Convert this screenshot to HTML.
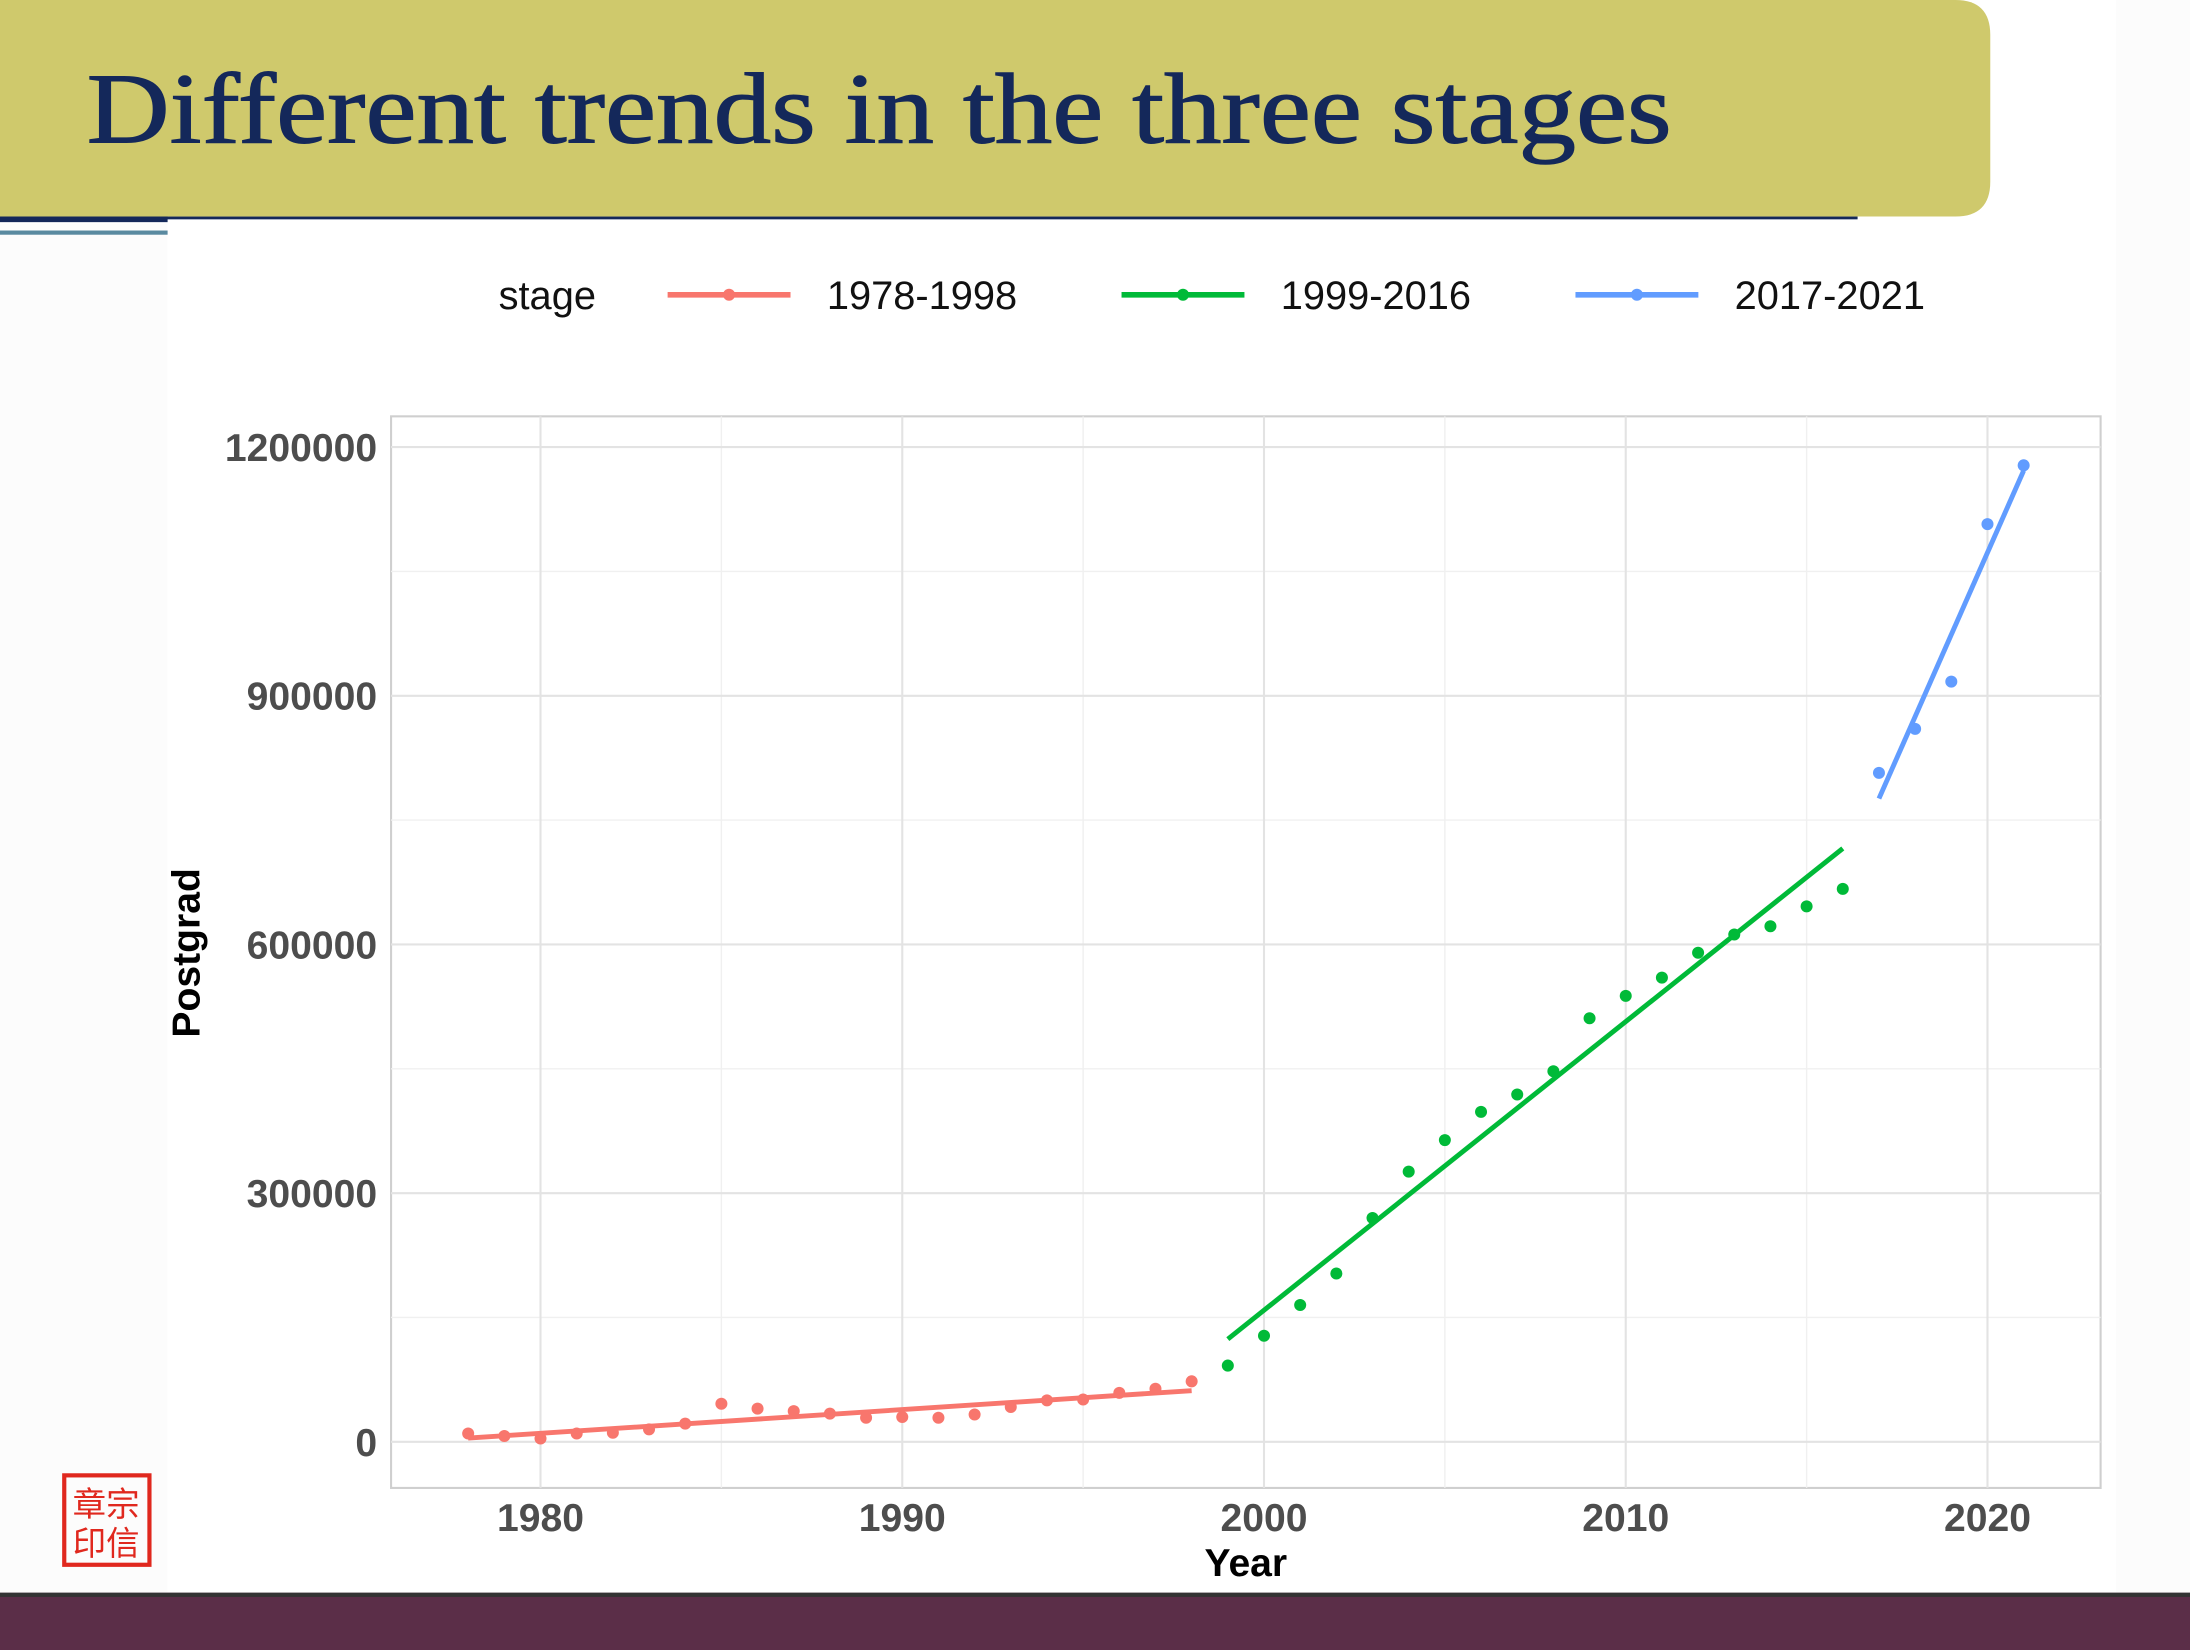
<!DOCTYPE html>
<html><head><meta charset="utf-8"><style>
html,body{margin:0;padding:0;background:#fff;}
svg{display:block;}
</style></head><body>
<svg id="chart" width="2190" height="1650" viewBox="0 0 1568 1181" preserveAspectRatio="none" xmlns="http://www.w3.org/2000/svg">
  <rect x="0" y="0" width="1568" height="1181" fill="#ffffff"/>
  <rect x="1515" y="0" width="53" height="1140" fill="#fcfcfc"/>
  <rect x="0" y="160" width="120" height="980" fill="#fcfcfc"/>
  <path d="M0 0 H1400 Q1425 0 1425 25 V130 Q1425 155 1400 155 H0 Z" fill="#CFC96C"/>
  <text x="62" y="102" font-family="'Liberation Serif', serif" font-size="72" fill="#14285A" stroke="#14285A" stroke-width="0.8" textLength="1135" lengthAdjust="spacingAndGlyphs">Different trends in the three stages</text>
  <rect x="0" y="155" width="1330" height="2" fill="#14285A"/>
  <rect x="0" y="155" width="120" height="4" fill="#14285A"/>
  <rect x="0" y="165" width="120" height="3" fill="#5A8AA0"/>
  <rect x="0" y="1140" width="1568" height="41" fill="#5B2E48"/>
  <rect x="0" y="1140" width="1568" height="3" fill="#333"/>
  <g>
    <rect x="46" y="1056" width="61" height="64" fill="none" stroke="#E0281E" stroke-width="3"/>
    <text x="76" y="1085" font-family="'Noto Sans CJK SC', sans-serif" font-size="24" fill="#E0281E" text-anchor="middle">章宗</text>
    <text x="76" y="1113" font-family="'Noto Sans CJK SC', sans-serif" font-size="24" fill="#E0281E" text-anchor="middle">印信</text>
  </g>
  <g font-family="'Liberation Sans', sans-serif" font-size="28.5" fill="#111">
    <text x="357" y="221">stage</text>
  </g>
  <g id="plot"></g>
</svg>
<script>
const years1 = [1978,1979,1980,1981,1982,1983,1984,1985,1986,1987,1988,1989,1990,1991,1992,1993,1994,1995,1996,1997,1998];
const vals1 = [10000,7000,4000,10000,11000,15000,22000,46000,40000,37000,34000,29000,30000,29000,33000,42000,50000,51000,59000,64000,73000];
const years2 = [1999,2000,2001,2002,2003,2004,2005,2006,2007,2008,2009,2010,2011,2012,2013,2014,2015,2016];
const vals2 = [92000,128000,165000,203000,270000,326000,364000,398000,419000,447000,511000,538000,560000,590000,612000,622000,646000,667000];
const years3 = [2017,2018,2019,2020,2021];
const vals3 = [807000,860000,917000,1107000,1178000];
const stageNames = ["1978-1998","1999-2016","2017-2021"];
const stageColors = ["#F8766D","#00BA38","#619CFF"];
const xTicks = [1980,1990,2000,2010,2020];
const yTicks = [0,300000,600000,900000,1200000];
const yMinor = [150000,450000,750000,1050000];
const xMinor = [1985,1995,2005,2015];

const NS = "http://www.w3.org/2000/svg";
const P = {l:280, r:1504, t:298, b:1065};
function xs(v){ return 387 + (v-1980)*25.9; }
function ys(v){ return 1032 - v/300000*178; }
const svg = document.getElementById('chart');
const g = document.getElementById('plot');
function mk(tag, attrs, parent){ const e=document.createElementNS(NS,tag); for(const k in attrs) e.setAttribute(k,attrs[k]); (parent||g).appendChild(e); return e; }

const panel = mk('rect',{x:P.l,y:P.t,width:P.r-P.l,height:P.b-P.t,fill:'#fff',stroke:'#cfcfcf','stroke-width':1.5});


yMinor.forEach(v=>{ const l=mk('line',{x1:P.l,x2:P.r,y1:ys(v),y2:ys(v),stroke:'#f0f0f0','stroke-width':1});
  
   });
xMinor.forEach(v=>{ const l=mk('line',{x1:xs(v),x2:xs(v),y1:P.t,y2:P.b,stroke:'#f0f0f0','stroke-width':1});
  
   });
yTicks.forEach(v=>{
  const l=mk('line',{x1:P.l,x2:P.r,y1:ys(v),y2:ys(v),stroke:'#e3e3e3','stroke-width':1.5});
  
  
  const t=mk('text',{x:270,y:ys(v)+10,'text-anchor':'end','font-family':"'Liberation Sans', sans-serif",'font-size':28,'font-weight':'bold',fill:'#4d4d4d'});
  
  
  t.textContent=v;
});
xTicks.forEach(v=>{
  const l=mk('line',{x1:xs(v),x2:xs(v),y1:P.t,y2:P.b,stroke:'#e3e3e3','stroke-width':1.5});
  
  
  const t=mk('text',{x:xs(v),y:1096,'text-anchor':'middle','font-family':"'Liberation Sans', sans-serif",'font-size':28,'font-weight':'bold',fill:'#4d4d4d'});
  
  
  t.textContent=v;
});
const xl=mk('text',{x:892,y:1128,'text-anchor':'middle','font-family':"'Liberation Sans', sans-serif",'font-size':28,'font-weight':'bold',fill:'#000'});


xl.textContent='Year';
const yl=mk('text',{x:0,y:0,transform:'translate(143,682) rotate(-90)','text-anchor':'middle','font-family':"'Liberation Sans', sans-serif",'font-size':28,'font-weight':'bold',fill:'#000'});


yl.textContent='Postgrad';

function fit(xsA, ysA){
  const n=xsA.length; let mx=0,my=0; for(let i=0;i<n;i++){mx+=xsA[i];my+=ysA[i];} mx/=n; my/=n;
  let sxy=0,sxx=0; for(let i=0;i<n;i++){sxy+=(xsA[i]-mx)*(ysA[i]-my); sxx+=(xsA[i]-mx)**2;}
  const b=sxy/sxx; return [b, my-b*mx];
}
const series=[[years1,vals1],[years2,vals2],[years3,vals3]];
series.forEach((s,i)=>{
  const [b,a]=fit(s[0],s[1]);
  const x0=s[0][0], x1=s[0][s[0].length-1];
  const ln=mk('line',{x1:xs(x0),y1:ys(a+b*x0),x2:xs(x1),y2:ys(a+b*x1),stroke:stageColors[i],'stroke-width':3.5});
  
  
  s[0].forEach((yr,j)=>{
    const c=mk('circle',{cx:xs(yr),cy:ys(s[1][j]),r:4.3,fill:stageColors[i]});
    
    
  });
});
// legend
const lx=[478,803,1128];
stageNames.forEach((n,i)=>{
  const l=mk('line',{x1:lx[i],x2:lx[i]+88,y1:211,y2:211,stroke:stageColors[i],'stroke-width':4});
  
  
  const c=mk('circle',{cx:lx[i]+44,cy:211,r:4.3,fill:stageColors[i]});
  
  
  const t=mk('text',{x:lx[i]+114,y:221,'font-family':"'Liberation Sans', sans-serif",'font-size':28.5,fill:'#111'});
  
  
  t.textContent=n;
});
</script>
</body></html>
